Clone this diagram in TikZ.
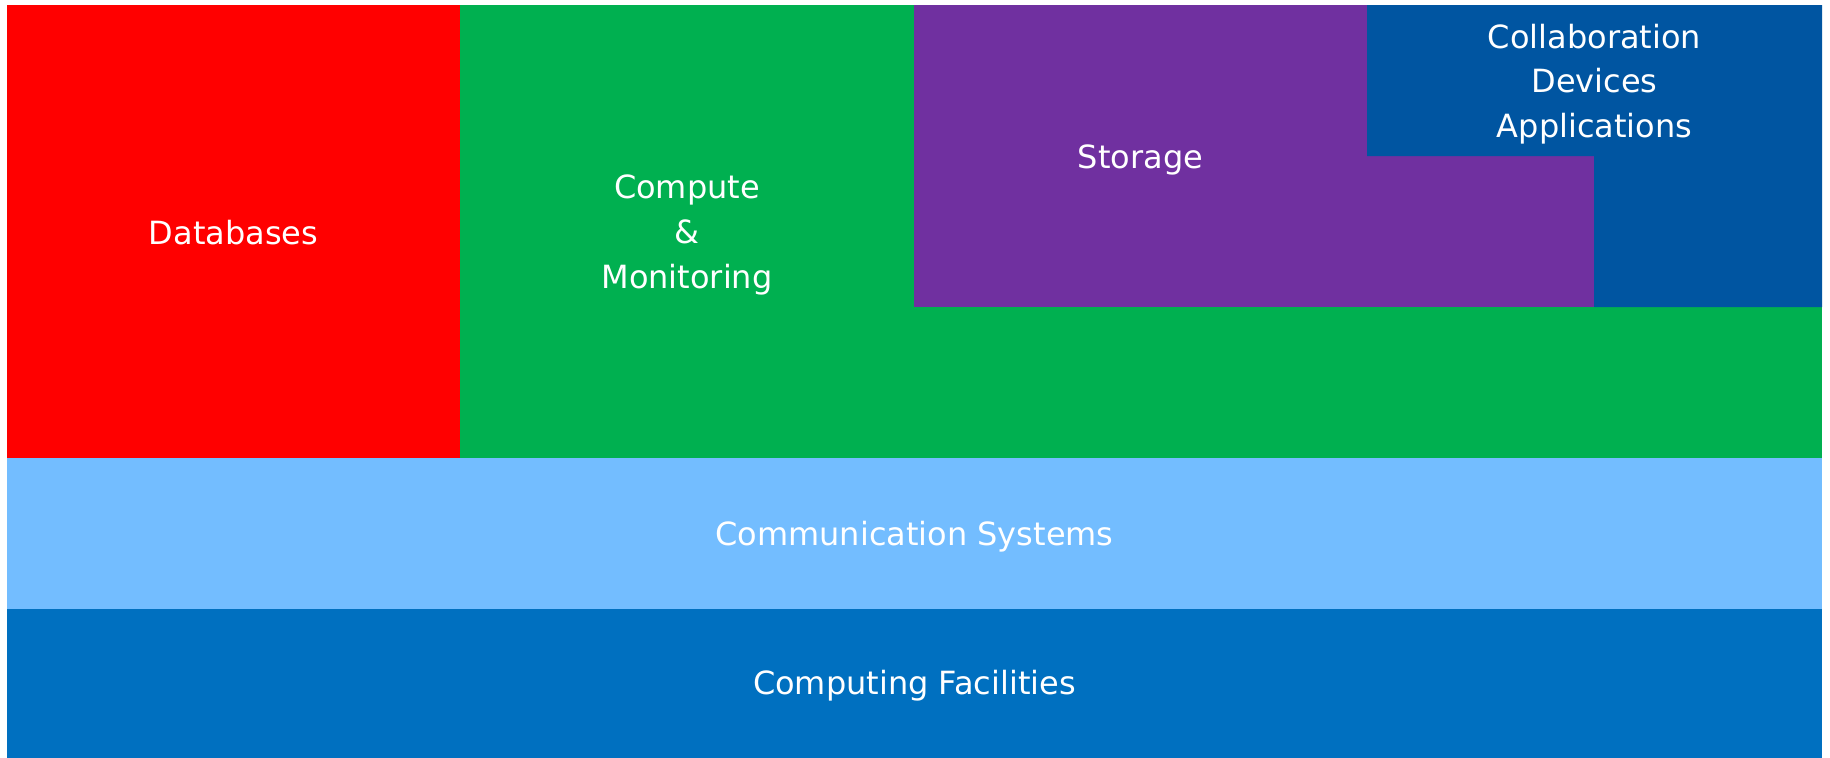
\documentclass[tikz,border=0pt]{standalone}
\usepackage{fontspec}
\setmainfont{DejaVu Sans}
\usepackage{xcolor}
\usepackage{tikz}
\usetikzlibrary{positioning}
\definecolor{DbRed}{HTML}{FF0000}
\definecolor{ComputeGreen}{HTML}{00B050}
\definecolor{StoragePurple}{HTML}{7030A0}
\definecolor{CollabBlue}{HTML}{0055A1}
\definecolor{CommBlue}{HTML}{73BDFF}
\definecolor{FacilityBlue}{HTML}{0070C0}

\begin{document}
\begin{tikzpicture}[x=0.1mm, y=-0.1mm, every node/.style={font=\fontsize{9.1pt}{12.7pt}\selectfont}]
      \tikzset{
        label/.style={text=white, align=center, inner sep=0pt},
        slab/.style={draw=none}
      }
      \useasboundingbox (0,0) rectangle (1830,758);

      % base layers
      \fill[slab, FacilityBlue] (7,609) rectangle (1822,758);
      \fill[slab, CommBlue] (7,458) rectangle (1822,609);

      % upper services
      \fill[slab, DbRed] (7,5) rectangle (460,458);
      \fill[slab, ComputeGreen] (460,5) rectangle (1822,458);
      \fill[slab, StoragePurple] (914,5) rectangle (1594,307);
      \fill[slab, CollabBlue] (1367,5) -- (1822,5) -- (1822,307) -- (1594,307) -- (1594,156) -- (1367,156) -- cycle;

      \node[label] (db) at (233.5,232.5) {Databases};
      \node[label] (compute) at (687,235) {Compute\\\&\\Monitoring};
      \node[label] (storage) at (1140.5,159.5) {Storage};
      \node[label] (collab) at (1594.5,84) {Collaboration\\Devices\\Applications};
      \node[label] (comm) at (914.5,537) {Communication Systems};
      \node[label] (facilities) at (914.5,686) {Computing Facilities};
    \end{tikzpicture}
\end{document}
